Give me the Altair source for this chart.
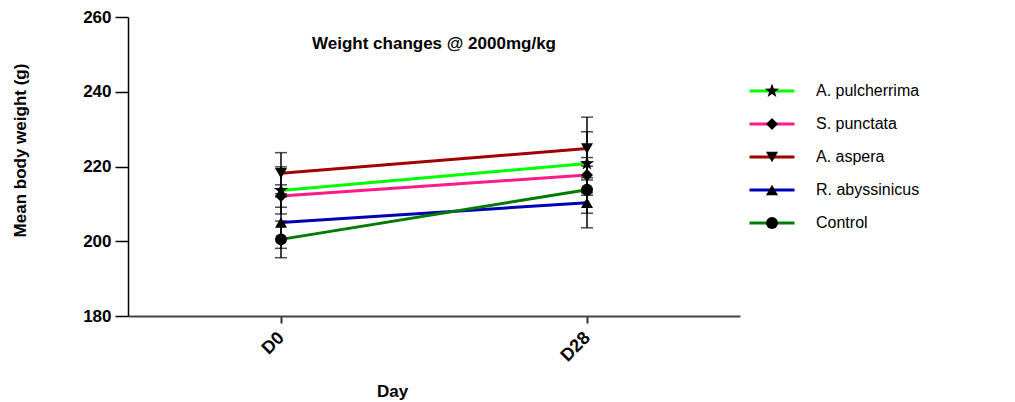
import altair as alt
import pandas as pd

series = ["A. pulcherrima", "S. punctata", "A. aspera", "R. abyssinicus", "Control"]
days = ["D0", "D28"]
mean_d0 = [213.6, 212.1, 218.2, 205.0, 200.5]
mean_d28 = [220.8, 217.7, 224.8, 210.3, 213.8]
sem_d0 = [6.3, 3.0, 5.5, 6.9, 4.9]
sem_d28 = [8.5, 4.7, 8.4, 6.7, 6.3]
colors = ["#00ff00", "#ff1a8c", "#a00000", "#0000b4", "#007a00"]

STAR = ("M0,-1.25L0.29,-0.4L1.19,-0.39L0.48,0.15L0.73,1.01L0,0.5"
        "L-0.73,1.01L-0.48,0.15L-1.19,-0.39L-0.29,-0.4Z")
shapes = [STAR, "diamond", "triangle-down", "triangle-up", "circle"]
LINE_PATH = "M-3.75,0H3.75"

rows = []
for i, s in enumerate(series):
    for d, m, e in ((days[0], mean_d0[i], sem_d0[i]), (days[1], mean_d28[i], sem_d28[i])):
        rows.append({"series": s, "marker": s, "day": d, "mean": m,
                     "lo": m - e, "hi": m + e})
df = pd.DataFrame(rows)

FONT = "Liberation Sans"

x = alt.X("day:N", sort=days, scale=alt.Scale(type="point", padding=0.5),
          axis=alt.Axis(title="Day", labelAngle=-45, labelAlign="right",
                        labelBaseline="middle", labelFontWeight="bold",
                        labelFontSize=18, labelPadding=12, tickSize=7,
                        tickColor="#333", domainColor="#444", domainWidth=2,
                        tickWidth=2, titleFontSize=17, titleFontWeight="bold",
                        titleX=264, titleY=75, titleBaseline="middle",
                        labelColor="black", titleColor="black",
                        labelFont=FONT, titleFont=FONT))
y_scale = alt.Scale(domain=[180, 260], nice=False, zero=False)

base = alt.Chart(df)

lines = base.mark_line(strokeWidth=3).encode(
    x=x,
    y=alt.Y("mean:Q", scale=y_scale,
            axis=alt.Axis(title="Mean body weight (g)", values=[180, 200, 220, 240, 260],
                          grid=False, tickSize=13, tickWidth=1.5, tickColor="black",
                          domainColor="black", domainWidth=1.5,
                          labelFontSize=17, labelFontWeight="bold", labelPadding=4,
                          labelColor="black", titleColor="black",
                          titleFontSize=17, titleFontWeight="bold",
                          titleX=-108, titleY=133, titleAngle=-90,
                          titleBaseline="middle", titleAlign="center",
                          labelFont=FONT, titleFont=FONT)),
    color=alt.Color("series:N", sort=series,
                    scale=alt.Scale(domain=series, range=colors),
                    legend=alt.Legend(title=None, orient="none", legendX=636, legendY=66,
                                      symbolType=LINE_PATH, symbolSize=144,
                                      symbolStrokeWidth=3, labelFontSize=16,
                                      labelOffset=36, rowPadding=17, padding=0,
                                      labelFont=FONT, labelColor="black")),
    detail="series:N",
)

rules = base.mark_rule(color="black", strokeWidth=1.5).encode(
    x=alt.X("day:N", sort=days), y="lo:Q", y2="hi:Q")
caps_hi = base.mark_tick(color="black", size=12, thickness=1.5).encode(
    x=alt.X("day:N", sort=days), y="hi:Q")
caps_lo = base.mark_tick(color="black", size=12, thickness=1.5).encode(
    x=alt.X("day:N", sort=days), y="lo:Q")

points = base.mark_point(filled=True, color="black", opacity=1, size=144).encode(
    x=alt.X("day:N", sort=days), y="mean:Q",
    shape=alt.Shape("marker:N", sort=series,
                    scale=alt.Scale(range=shapes),
                    legend=alt.Legend(title=None, orient="none", legendX=636, legendY=66,
                                      symbolSize=144, symbolFillColor="black",
                                      symbolStrokeColor="black", symbolStrokeWidth=0,
                                      labelFontSize=16, labelOffset=36, rowPadding=17,
                                      padding=0, labelOpacity=0, labelFont=FONT)),
)

chart = alt.layer(lines, rules, caps_hi, caps_lo, points).properties(
    width=612, height=299,
    title=alt.TitleParams("Weight changes @ 2000mg/kg", font=FONT, fontSize=17,
                          fontWeight="bold", anchor="middle", offset=-45, color="black"),
    autosize=alt.AutoSizeParams(type="none"),
    padding={"left": 128, "top": 17, "right": 275, "bottom": 86},
).configure_view(stroke=None).configure_legend(symbolDirection="vertical")

chart.save("out.html", embed_options={"renderer": "svg", "actions": False})
